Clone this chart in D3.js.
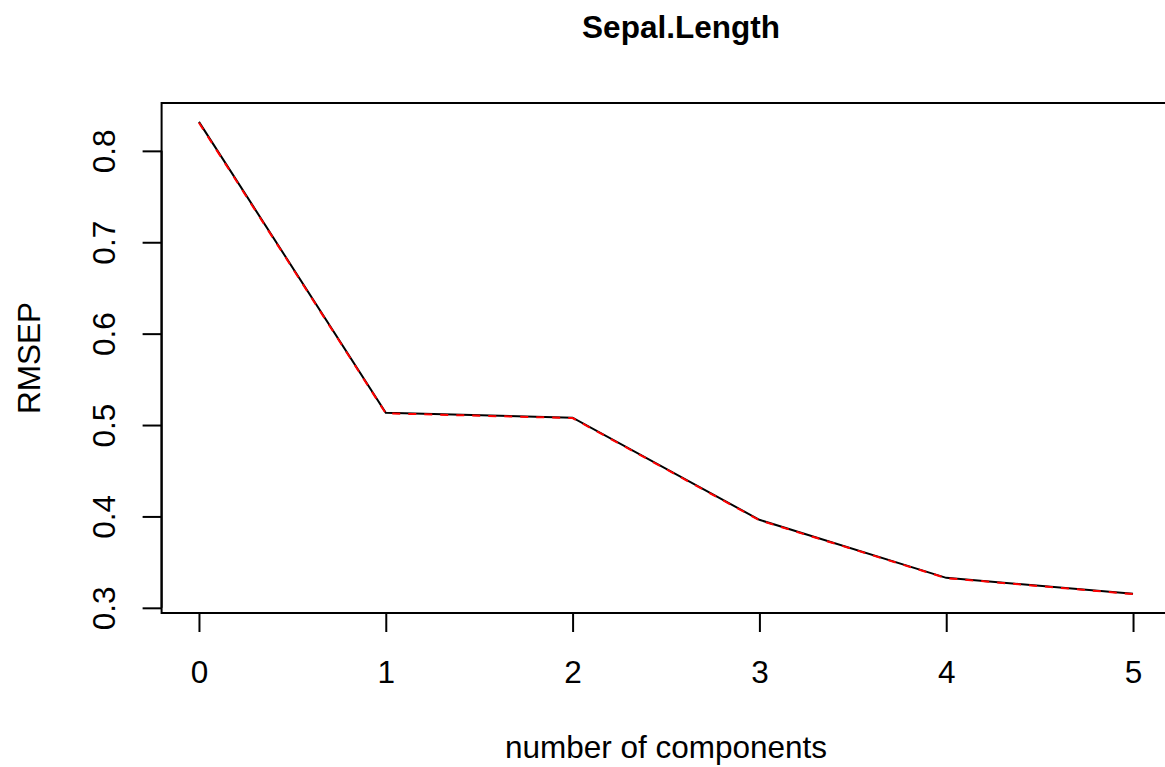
<!DOCTYPE html>
<html><head><meta charset="utf-8">
<script src="https://cdn.jsdelivr.net/npm/d3@7"></script>
<style>body{margin:0;background:#fff}svg{display:block}text{font-family:"Liberation Sans",Arial,sans-serif}</style>
</head><body>
<svg id="c" width="1165" height="767"></svg>
<script>
const components = [0, 1, 2, 3, 4, 5];
const cvValues = [0.8317, 0.5134, 0.5080, 0.3963, 0.3328, 0.3153];
const adjCvValues = [0.8308, 0.5128, 0.5076, 0.3958, 0.3325, 0.3150];
const xTicks = [0, 1, 2, 3, 4, 5];
const yTicks = [0.3, 0.4, 0.5, 0.6, 0.7, 0.8];

const svg = d3.select("#c");
const L = 161.6, R = 1170.4, T = 103, B = 613;
const FS = 31.5;
const allV = cvValues.concat(adjCvValues);
const ymin = d3.min(allV), ymax = d3.max(allV), yr = ymax - ymin;
const x = d3.scaleLinear().domain([-0.2, 5.2]).range([L, R]);
const y = d3.scaleLinear().domain([ymin - 0.04*yr, ymax + 0.04*yr]).range([B, T]);

svg.append("rect").attr("x", L).attr("y", T).attr("width", R-L).attr("height", B-T)
  .attr("fill", "none").attr("stroke", "#000").attr("stroke-width", 2);

const line = d3.line().x((d,i)=>x(components[i])).y(d=>y(d));
svg.append("path").datum(cvValues).attr("d", line).attr("fill","none").attr("stroke","#000").attr("stroke-width",2);
svg.append("path").datum(adjCvValues).attr("d", line).attr("fill","none").attr("stroke","#ff0000").attr("stroke-width",2).attr("stroke-dasharray","8,8");

// x axis
const xa = svg.append("g").attr("transform", `translate(0,${B})`)
  .call(d3.axisBottom(x).tickValues(xTicks).tickSize(19).tickFormat(d3.format("d")));
xa.select(".domain").attr("d", `M${x(0)},0H${x(5)}`).attr("stroke-width", 2);
xa.selectAll(".tick line").attr("stroke-width", 2);
xa.selectAll("text").attr("font-size", FS).attr("fill", "#000").attr("y", 70).attr("dy", null);

// y axis
const ya = svg.append("g").attr("transform", `translate(${L},0)`)
  .call(d3.axisLeft(y).tickValues(yTicks).tickSize(19).tickFormat(d3.format(".1f")));
ya.select(".domain").attr("d", `M0,${y(0.3)}V${y(0.8)}`).attr("stroke-width", 2);
ya.selectAll(".tick line").attr("stroke-width", 2);
ya.selectAll(".tick text").attr("font-size", FS).attr("fill", "#000")
  .attr("x", null).attr("dy", null)
  .attr("text-anchor", "middle")
  .attr("transform", `translate(${114.5 - L},0) rotate(-90)`);

svg.append("text").attr("x", 681).attr("y", 38).attr("text-anchor","middle")
  .attr("font-size", FS).attr("font-weight","bold").text("Sepal.Length");
svg.append("text").attr("x", (L+R)/2).attr("y", 758).attr("text-anchor","middle")
  .attr("font-size", FS).text("number of components");
svg.append("text").attr("transform", `translate(39.5,${(T+B)/2}) rotate(-90)`).attr("text-anchor","middle")
  .attr("font-size", FS).text("RMSEP");
</script>
</body></html>
